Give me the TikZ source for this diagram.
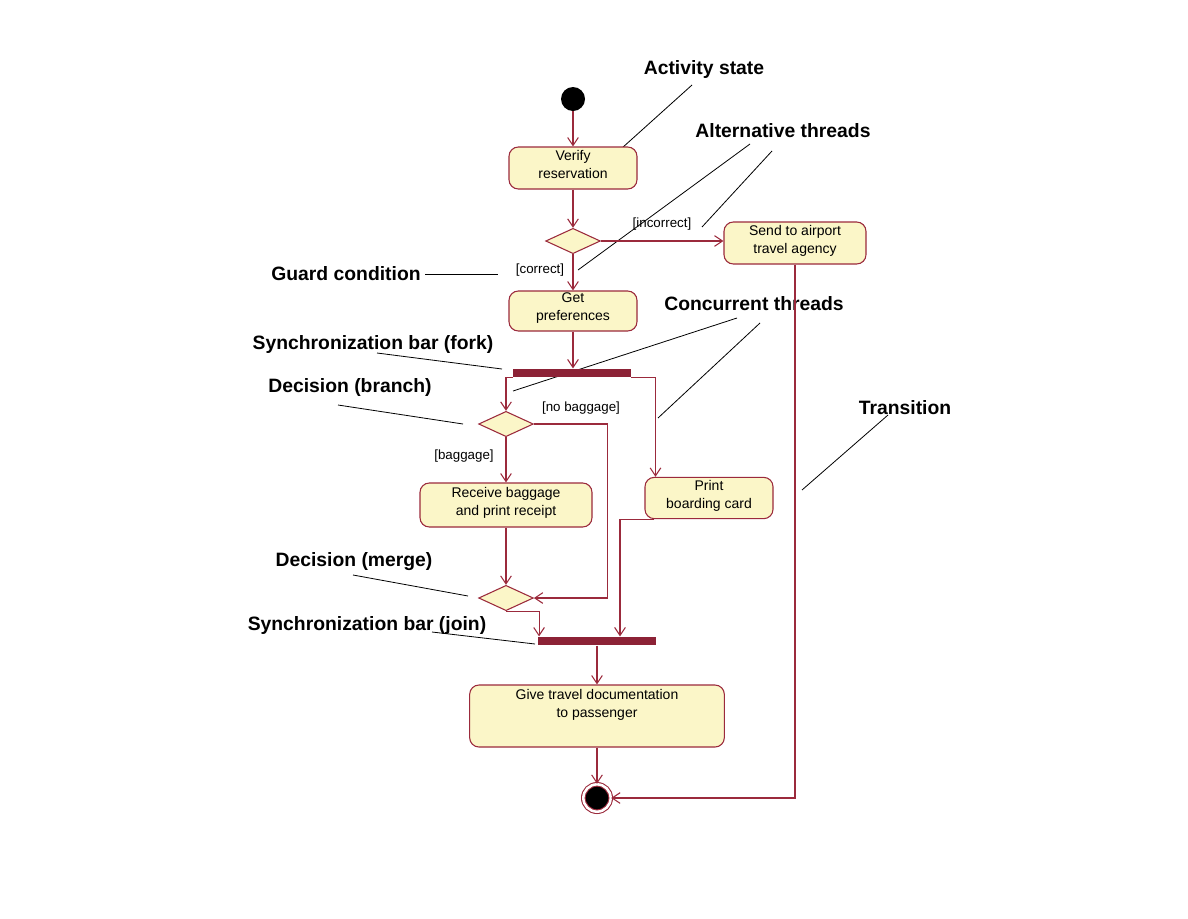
\documentclass[tikz,border=0pt]{standalone}
\usepackage{fontspec}
\setmainfont{Liberation Sans}
\usetikzlibrary{arrows.meta, shapes.geometric}
\definecolor{actfill}{RGB}{251,246,200}
\definecolor{actline}{RGB}{155,42,60}
\definecolor{barcol}{RGB}{140,34,54}

\begin{document}
\begin{tikzpicture}[x=0.75pt, y=-0.75pt,
    activity/.style={draw=actline, fill=actfill, line width=0.8pt, rounded corners=7pt, align=center,
                     inner sep=0pt, text depth=6pt, font=\fontsize{10.5}{13.5}\selectfont},
    choice/.style={diamond, draw=actline, fill=actfill, line width=0.8pt, minimum width=41pt,
                   minimum height=19pt, inner sep=0pt},
    syncbar/.style={fill=barcol, minimum width=88.5pt, minimum height=6.5pt, inner sep=0pt},
    flow/.style={actline, line width=0.8pt, -{Straight Barb[length=6pt,width=8pt]}},
    guard/.style={font=\fontsize{10}{12}\selectfont},
    note/.style={font=\bfseries\fontsize{14.5}{17}\selectfont},
    noteline/.style={black, line width=0.6pt}]

    \useasboundingbox (0,0) rectangle (1188,918);

    % Annotazioni
    \node[note] (nactivity) at (704,69) {Activity state};
    \node[note] (nalt) at (783,131) {Alternative threads};
    \node[note] (nguard) at (346,274) {Guard condition};
    \node[note] (nconc) at (754,304) {Concurrent threads};
    \node[note] (nfork) at (373,344) {Synchronization bar (fork)};
    \node[note] (nbranch) at (350,387) {Decision (branch)};
    \node[note] (ntrans) at (905,408) {Transition};
    \node[note] (nmerge) at (354,562) {Decision (merge)};
    \node[note] (njoin) at (367,625) {Synchronization bar (join)};

    \coordinate (pactivity) at (622,148);
    \coordinate (palt1) at (578,270);
    \coordinate (palt2) at (702,227);
    \coordinate (pguard) at (498,274);
    \coordinate (pconc1) at (513,391);
    \coordinate (pconc2) at (658,418);
    \coordinate (pfork) at (502,369);
    \coordinate (pbranch) at (463,424);
    \coordinate (ptrans) at (802,490);
    \coordinate (pmerge) at (468,596);
    \coordinate (pjoin) at (535,644);

    \draw[noteline] ([shift={(-12,16)}]nactivity.center) -- (pactivity);
    \draw[noteline] ([shift={(-33,13)}]nalt.center) -- (palt1);
    \draw[noteline] ([shift={(-11,20)}]nalt.center) -- (palt2);
    \draw[noteline] (nguard.east) -- (pguard);
    \draw[noteline] ([shift={(-17,14)}]nconc.center) -- (pconc1);
    \draw[noteline] ([shift={(6,19)}]nconc.center) -- (pconc2);
    \draw[noteline] ([shift={(4,9)}]nfork.center) -- (pfork);
    \draw[noteline] ([shift={(-12,18)}]nbranch.center) -- (pbranch);
    \draw[noteline] ([shift={(-17,7)}]ntrans.center) -- (ptrans);
    \draw[noteline] ([shift={(-1,13)}]nmerge.center) -- (pmerge);
    \draw[noteline] ([shift={(65,7)}]njoin.center) -- (pjoin);

    % Attivita
    \node[circle, fill=black, minimum size=18pt, inner sep=0pt] (start) at (573,99) {};
    \node[activity, minimum width=96pt, minimum height=31.5pt] (verify) at (573,168) {Verify\\reservation};
    \node[choice] (check) at (573,241) {};
    \node[activity, minimum width=106.5pt, minimum height=31.5pt] (agency) at (795,243) {Send to airport\\travel agency};
    \node[activity, minimum width=96pt, minimum height=30pt] (prefs) at (573,311) {Get\\preferences};
    \node[syncbar] (fork) at (572,373) {};
    \node[choice] (branch) at (506,424) {};
    \node[activity, minimum width=129pt, minimum height=33pt] (baggage) at (506,505) {Receive baggage\\and print receipt};
    \node[activity, minimum width=96pt, minimum height=31pt] (boarding) at (709,498) {Print\\boarding card};
    \node[choice] (merge) at (506,598) {};
    \node[syncbar] (join) at (597,641) {};
    \node[activity, minimum width=191pt, minimum height=46.5pt, text depth=19pt] (docs) at (597,716) {Give travel documentation\\to passenger};
    \node[circle, fill=black, draw=actline, line width=0.8pt, double=white, double distance=1.9pt,
          minimum size=20.5pt, inner sep=0pt] (finish) at (597,798) {};

    % Guardie
    \node[guard] (gincorrect) at (662,224) {[incorrect]};
    \node[guard] (gcorrect) at (540,270) {[correct]};
    \node[guard] (gnobag) at (581,408) {[no baggage]};
    \node[guard] (gbag) at (464,456) {[baggage]};

    % Transizioni
    \draw[flow] (start) -- (verify);
    \draw[flow] (verify) -- (check);
    \draw[flow] (check.east) -- (check.east -| agency.west);
    \draw[flow] (check) -- (prefs);
    \draw[flow] (prefs) -- (prefs |- fork.north);
    \draw[flow] (fork.south west) -| (branch.north);
    \draw[flow] (fork.south east) -| ([xshift=8.25pt]boarding.north west);
    \draw[flow] (branch) -- (baggage);
    \draw[flow] (branch.east) -- ++(74,0) |- (merge.east);
    \draw[flow] (baggage) -- (merge);
    \draw[flow] (merge.south) -| ([xshift=1pt]join.north west);
    \draw[flow] ([xshift=7.5pt]boarding.south west) -| ([xshift=17.25pt]join.north);
    \draw[flow] (join) -- (docs);
    \draw[flow] (docs) -- (finish);
    \draw[flow] (agency.south) |- (finish.east);
\end{tikzpicture}
\end{document}
